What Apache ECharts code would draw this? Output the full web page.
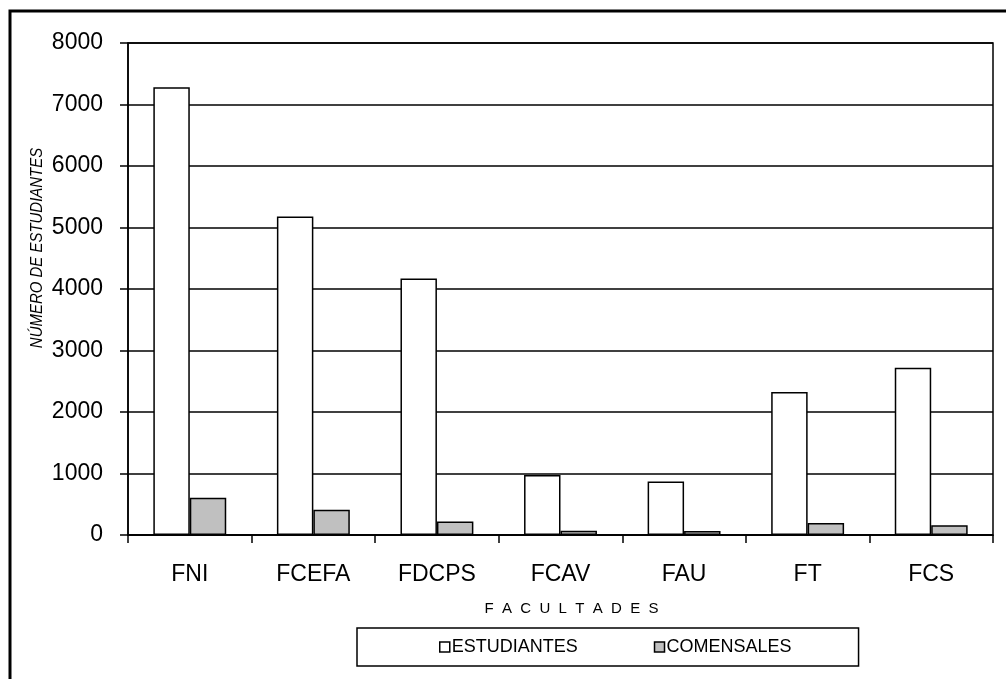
<!DOCTYPE html>
<html>
<head>
<meta charset="utf-8">
<script src="https://cdn.jsdelivr.net/npm/echarts@6/dist/echarts.min.js"></script>
<style>
  html, body { margin: 0; padding: 0; background: #fff; }
  #chart { width: 1006px; height: 679px; }
</style>
</head>
<body>
<div id="chart"></div>
<script>
const categories = ['FNI', 'FCEFA', 'FDCPS', 'FCAV', 'FAU', 'FT', 'FCS']
const estudiantes = [7280, 5180, 4170, 975, 870, 2325, 2720]
const comensales = [605, 410, 220, 70, 65, 195, 160]
const yTicks = { min: 0, max: 8000, interval: 1000 }

const font = 'Liberation Sans, Arial, sans-serif'
let mychart = echarts.init(document.getElementById('chart'))
mychart.setOption({
  animation: false,
  backgroundColor: '#fff',
  textStyle: { fontFamily: font, color: '#000' },
  grid: {
    left: 128,
    right: 13,
    top: 43,
    bottom: 144,
    show: true,
    borderColor: '#000',
    borderWidth: 1.5,
    backgroundColor: 'transparent',
  },
  legend: {
    left: 357,
    top: 628,
    padding: [10, 67, 10, 82],
    itemGap: 76,
    itemWidth: 10,
    itemHeight: 10,
    icon: 'rect',
    borderColor: '#000',
    borderWidth: 1.5,
    textStyle: { fontFamily: font, fontSize: 18, color: '#000', padding: [0, 0, 0, -3] },
    data: [
      { name: 'ESTUDIANTES', itemStyle: { color: '#fff', borderColor: '#000', borderWidth: 1.5 } },
      { name: 'COMENSALES', itemStyle: { color: '#c0c0c0', borderColor: '#000', borderWidth: 1.5 } },
    ],
  },
  xAxis: {
    type: 'category',
    data: categories,
    name: 'F  A  C  U  L  T  A  D  E  S',
    nameLocation: 'middle',
    nameGap: 66,
    nameTextStyle: { fontFamily: font, fontSize: 15, color: '#000', padding: [0, 0, 0, 22] },
    axisLine: { lineStyle: { color: '#000', width: 1.5 } },
    axisTick: { show: true, length: 8, lineStyle: { color: '#000', width: 1.5 } },
    axisLabel: { fontFamily: font, fontSize: 23, color: '#000', margin: 28 },
  },
  yAxis: {
    type: 'value',
    min: yTicks.min,
    max: yTicks.max,
    interval: yTicks.interval,
    axisLine: { show: true, lineStyle: { color: '#000', width: 1.5 } },
    axisTick: { show: true, length: 8, lineStyle: { color: '#000', width: 1.5 } },
    axisLabel: { fontFamily: font, fontSize: 23, color: '#000', margin: 25, formatter: (v) => String(v) },
    splitLine: { lineStyle: { color: '#000', width: 1.5 } },
  },
  graphic: [
    {
      type: 'rect',
      shape: { x: 10, y: 11, width: 1100, height: 800 },
      style: { fill: 'none', stroke: '#000', lineWidth: 3 },
      silent: true,
    },
    {
      type: 'text',
      x: 37,
      y: 248,
      rotation: Math.PI / 2,
      scaleX: 0.88,
      style: {
        text: 'NÚMERO DE ESTUDIANTES',
        fontFamily: font,
        fontSize: 17,
        fontStyle: 'italic',
        fill: '#000',
        textAlign: 'center',
        textVerticalAlign: 'middle',
      },
    },
  ],
  series: [
    {
      name: 'ESTUDIANTES',
      type: 'bar',
      data: estudiantes,
      barGap: 0,
      barCategoryGap: '41%',
      itemStyle: { color: '#fff', borderColor: '#000', borderWidth: 1.5 },
    },
    {
      name: 'COMENSALES',
      type: 'bar',
      data: comensales,
      itemStyle: { color: '#c0c0c0', borderColor: '#000', borderWidth: 1.5 },
    },
  ],
})
</script>
</body>
</html>
